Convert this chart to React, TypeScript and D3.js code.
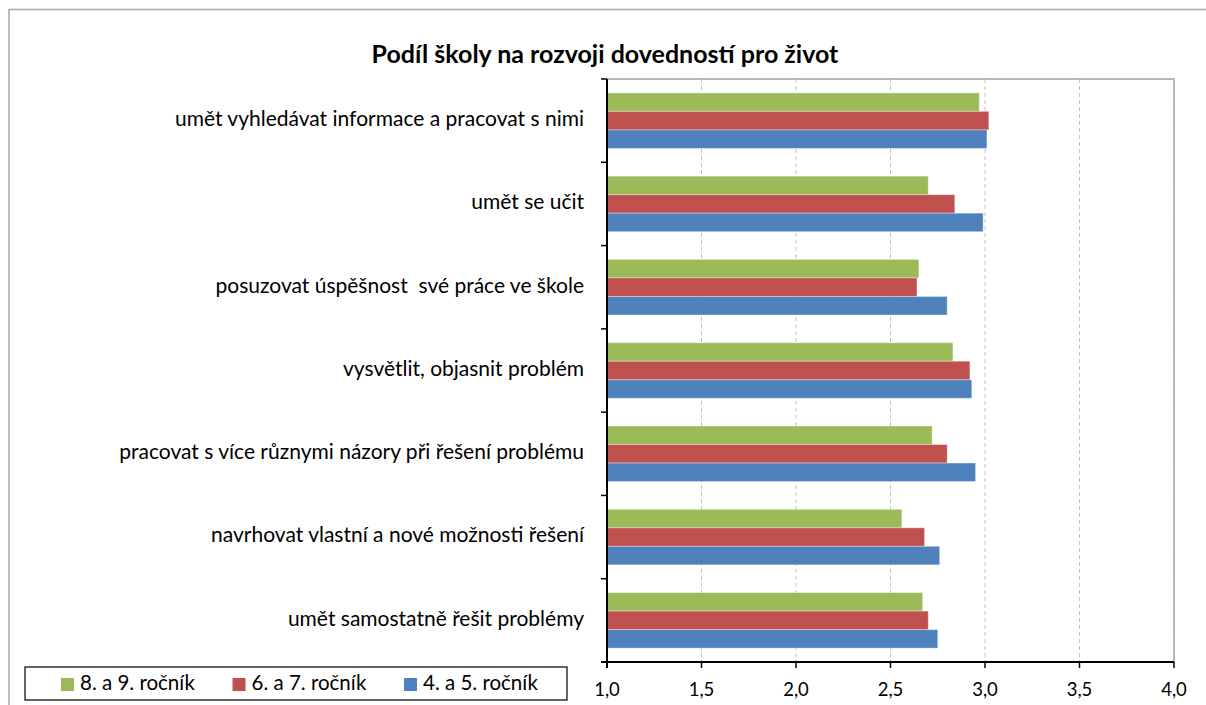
import React from "react";
import * as d3 from "d3";

const categories = [
  "umět vyhledávat informace a pracovat s nimi",
  "umět se učit",
  "posuzovat úspěšnost  své práce ve škole",
  "vysvětlit, objasnit problém",
  "pracovat s více různymi názory při řešení problému",
  "navrhovat vlastní a nové možnosti řešení",
  "umět samostatně řešit problémy",
];

const seriesNames = ["8. a 9. ročník", "6. a 7. ročník", "4. a 5. ročník"];
const seriesColors = ["#9BBB59", "#C0504D", "#4F81BD"];

const grade89 = [2.97, 2.70, 2.65, 2.83, 2.72, 2.56, 2.67];
const grade67 = [3.02, 2.84, 2.64, 2.92, 2.80, 2.68, 2.70];
const grade45 = [3.01, 2.99, 2.80, 2.93, 2.95, 2.76, 2.75];

const xTicks = [1.0, 1.5, 2.0, 2.5, 3.0, 3.5, 4.0];
const title = "Podíl školy na rozvoji dovedností pro život";

const W = 1206;
const H = 705;
const plot = { left: 607, right: 1174, top: 79, bottom: 662 };
const font = "Lato, 'Open Sans', sans-serif";

export default function App() {
  const values = [grade89, grade67, grade45];

  const x = d3.scaleLinear().domain([1, 4]).range([plot.left, plot.right]);
  const y = d3
    .scaleBand<string>()
    .domain(categories)
    .range([plot.top, plot.bottom])
    .paddingInner(1 / 3)
    .paddingOuter(1 / 6);
  const ys = d3
    .scaleBand<number>()
    .domain(d3.range(seriesNames.length))
    .range([0, y.bandwidth()]);

  const step = y.step();
  const catBoundaries = d3.range(categories.length + 1).map((i) => plot.top + i * step);
  const fmt = (v: number) => d3.format(".1f")(v).replace(".", ",");

  return (
    <svg
      width={W}
      height={H}
      style={{ position: "absolute", left: 0, top: 0, background: "#fff" }}
      fontFamily={font}
    >
      {/* outer chart frame */}
      <rect x={9} y={9.5} width={W + 20} height={H + 20} fill="#fff" stroke="#a6a6a6" strokeWidth={1.5} />

      <text x={605} y={57} textAnchor="middle" dominantBaseline="middle" fontSize={25} fontWeight="bold" fill="#000">
        {title}
      </text>

      {/* plot area frame */}
      <rect
        x={plot.left}
        y={plot.top}
        width={plot.right - plot.left}
        height={plot.bottom - plot.top}
        fill="#fff"
        stroke="#a0a0a0"
        strokeWidth={1.5}
      />

      {/* gridlines */}
      {xTicks.slice(1).map((t) => (
        <line
          key={"g" + t}
          x1={x(t)}
          x2={x(t)}
          y1={plot.top}
          y2={plot.bottom}
          stroke="#c0c0c0"
          strokeWidth={1}
          strokeDasharray="4,3"
        />
      ))}

      {/* bars */}
      {categories.map((c, ci) => (
        <g key={c} transform={`translate(0,${y(c)})`}>
          {values.map((vals, si) => (
            <rect
              key={si}
              x={x(1)}
              y={ys(si)}
              width={x(vals[ci]) - x(1)}
              height={ys.bandwidth()}
              fill={seriesColors[si]}
              stroke="#ffffff"
              strokeOpacity={0.35}
              strokeWidth={1}
            />
          ))}
        </g>
      ))}

      {/* category axis */}
      <line x1={plot.left} x2={plot.left} y1={plot.top} y2={plot.bottom + 6} stroke="#000" strokeWidth={2} />
      {catBoundaries.map((b, i) => (
        <line key={"ct" + i} x1={plot.left - 6} x2={plot.left} y1={b} y2={b} stroke="#000" strokeWidth={1.5} />
      ))}
      {categories.map((c) => (
        <text
          key={"cl" + c}
          x={584}
          y={(y(c) ?? 0) + y.bandwidth() / 2}
          textAnchor="end"
          dominantBaseline="middle"
          fontSize={21}
          fill="#000"
          style={{ whiteSpace: "pre" }}
        >
          {c}
        </text>
      ))}

      {/* value axis */}
      <line x1={plot.left - 6} x2={plot.right} y1={plot.bottom} y2={plot.bottom} stroke="#000" strokeWidth={2} />
      {xTicks.map((t) => (
        <g key={"xt" + t}>
          <line x1={x(t)} x2={x(t)} y1={plot.bottom} y2={plot.bottom + 6} stroke="#000" strokeWidth={1.5} />
          <text x={x(t)} y={691} textAnchor="middle" dominantBaseline="middle" fontSize={18.5} fill="#000">
            {fmt(t)}
          </text>
        </g>
      ))}

      {/* legend */}
      <rect x={25} y={667} width={542} height={33} fill="#fff" stroke="#000" strokeWidth={1.2} />
      {seriesNames.map((s, i) => (
        <g key={s} transform={`translate(${61 + i * 171.5},0)`}>
          <rect x={0} y={678} width={13} height={13} fill={seriesColors[i]} />
          <text x={19} y={685} dominantBaseline="middle" fontSize={20.5} fill="#000">
            {s}
          </text>
        </g>
      ))}
    </svg>
  );
}
